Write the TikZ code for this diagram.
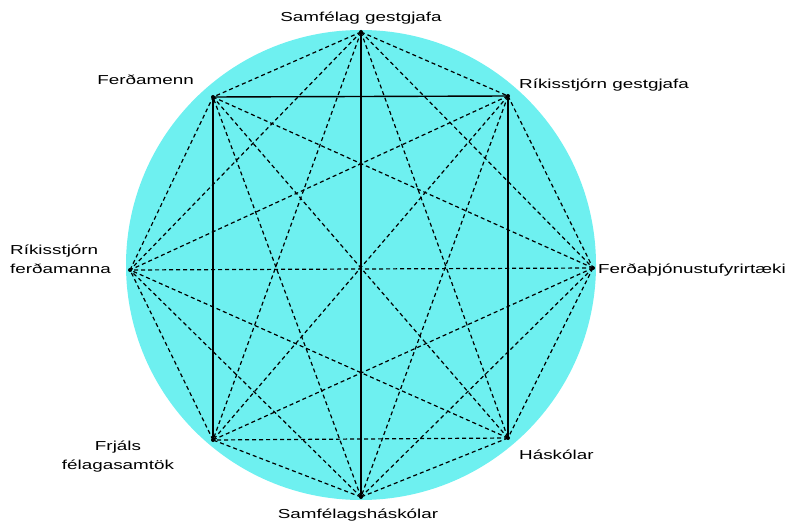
\documentclass[tikz,border=0pt]{standalone}
\usepackage{fontspec}
\setmainfont{Liberation Sans}[FakeStretch=1.45]
\definecolor{aqua}{RGB}{110,240,240}
\begin{document}
\begin{tikzpicture}[x=1pt,y=-1pt,
  lbl/.style={font=\fontsize{13}{19}\selectfont,inner sep=0pt,align=center},
  solidedge/.style={draw=black,line width=1.4pt},
  dashedge/.style={draw=black,line width=1.2pt,dash pattern=on 4pt off 3pt},
  vtx/.style={circle,fill=black,inner sep=0pt,minimum size=4pt}]
\useasboundingbox (0,0) rectangle (797,526);
\fill[aqua] (361,265) circle[radius=235];
% vertices
\node[vtx] (T)  at (361,32) {};
\node[vtx] (TR) at (508,96) {};
\node[vtx] (R)  at (593,268) {};
\node[vtx] (BR) at (508,438) {};
\node[vtx] (B)  at (361,497) {};
\node[vtx] (BL) at (213,440) {};
\node[vtx] (L)  at (130,270) {};
\node[vtx] (TL) at (213,97) {};
% solid edges
\draw[solidedge] (TL.center) -- (TR.center);
\draw[solidedge] (TL.center) -- (BL.center);
\draw[solidedge] (TR.center) -- (BR.center);
\draw[solidedge] (T.center) -- (B.center);
% dashed edges
\foreach \a/\b in {T/TR,T/R,T/BR,T/BL,T/L,T/TL,
                   TR/R,TR/B,TR/BL,TR/L,
                   R/BR,R/B,R/BL,R/L,R/TL,
                   BR/B,BR/BL,BR/L,BR/TL,
                   B/BL,B/L,B/TL,
                   BL/L,L/TL}
  \draw[dashedge] (\a.center) -- (\b.center);
% labels
\node[lbl] (lT)  at (361,18) {Samfélag gestgjafa};
\node[lbl,anchor=east] (lTL) at (194,80) {Ferðamenn};
\node[lbl,anchor=west] (lTR) at (519,85) {Ríkisstjórn gestgjafa};
\node[lbl,anchor=west,align=left] (lL) at (10,259) {Ríkisstjórn\\ferðamanna};
\node[lbl,anchor=west] (lR) at (598,270) {Ferðaþjónustufyrirtæki};
\node[lbl] (lBL) at (118,457) {Frjáls\\félagasamtök};
\node[lbl,anchor=west] (lBR) at (519,455) {Háskólar};
\node[lbl] (lB)  at (358,515) {Samfélagsháskólar};
\end{tikzpicture}
\end{document}
